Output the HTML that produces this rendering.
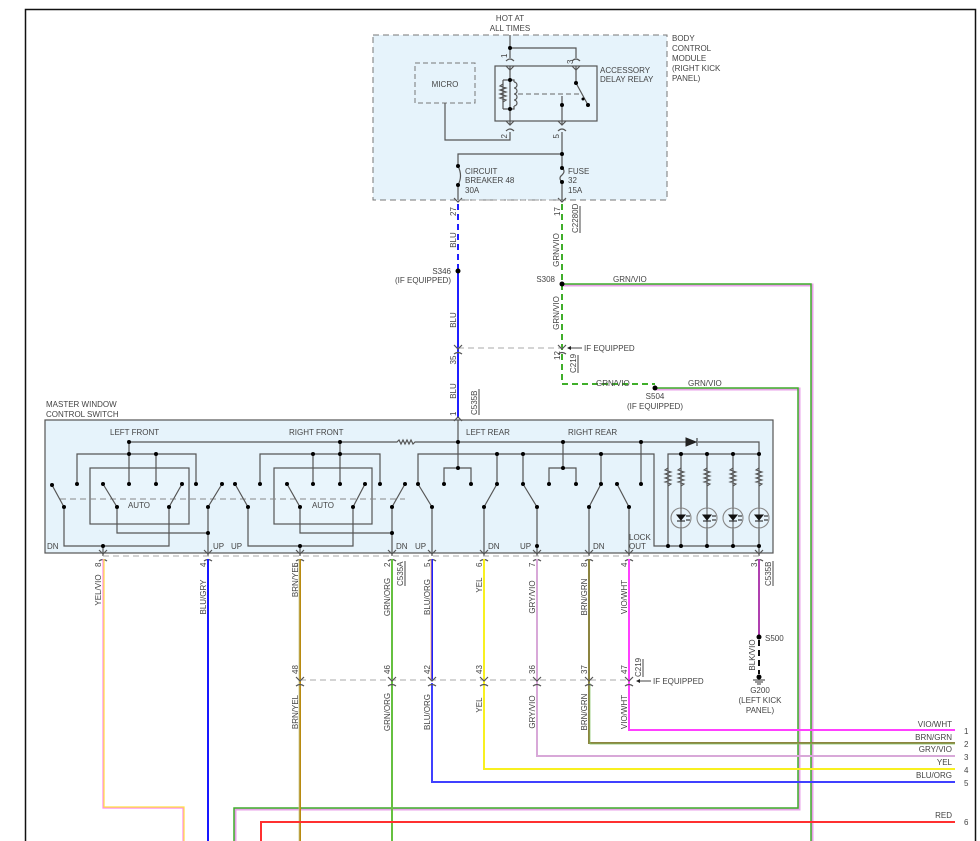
<!DOCTYPE html>
<html><head><meta charset="utf-8"><style>
html,body{margin:0;padding:0;background:#fff;width:980px;height:841px;overflow:hidden}
svg{display:block}
text{font-family:"Liberation Sans",sans-serif;font-size:8px;fill:#444}
.w{fill:none;stroke:#555;stroke-width:1.2}
.d{fill:#000}
.m{text-anchor:middle}
.e{text-anchor:end}
</style></head><body>
<svg width="980" height="841" viewBox="0 0 980 841" xmlns="http://www.w3.org/2000/svg">
<path d="M25.5,841 V9.5 H975.5 V841" fill="none" stroke="#111" stroke-width="1.5"/>

<rect x="373" y="35" width="294" height="165" fill="#e6f3fb" stroke="#777" stroke-dasharray="6,4"/>
<text x="510" y="21" class="m">HOT AT</text><text x="510" y="31" class="m">ALL TIMES</text>
<text x="672" y="41">BODY</text><text x="672" y="51">CONTROL</text><text x="672" y="61">MODULE</text><text x="672" y="71">(RIGHT KICK</text><text x="672" y="81">PANEL)</text>
<rect x="415" y="63" width="60" height="40" fill="none" stroke="#777" stroke-dasharray="5,3"/>
<text x="445" y="87" class="m">MICRO</text>
<rect x="495" y="66" width="102" height="55" fill="#e9f5fc" stroke="#555" stroke-width="1.2"/>
<text x="600" y="73">ACCESSORY</text><text x="600" y="82">DELAY RELAY</text>
<path class="w" d="M510,35 V58 M510,48 H576 V58 M510,66 V124 M576,66 V83 M576,83 L588,105 M562,96 V124 M445,103 V140 H510 V132 M562,132 V200 M562,154 H458 V200"/>
<path class="w" d="M503,80 V109 M503,84 l-3,2 l6,2 l-6,2 l6,2 l-6,2 l6,2 l-6,2 l6,2 l-3,2 M503,80 H510 M503,109 H510 M514,82 a3,3 0 0 1 0,6 a3,3 0 0 1 0,6 a3,3 0 0 1 0,6 a3,3 0 0 1 0,6 M510,80 H514 V82 M514,106 V109 H510"/>
<path d="M518,94 H580" stroke="#666" stroke-dasharray="5,3" fill="none"/>
<circle class="d" cx="510" cy="48" r="2"/><circle class="d" cx="510" cy="80" r="2"/><circle class="d" cx="510" cy="109" r="2"/><circle class="d" cx="576" cy="83" r="2"/><circle class="d" cx="588" cy="105" r="2"/><circle class="d" cx="583" cy="99" r="1.5"/><circle class="d" cx="562" cy="105" r="2"/><circle class="d" cx="562" cy="154" r="2"/>
<g class="w">
<path d="M506,61 q4,-4 8,0 M572,61 q4,-4 8,0 M506,66 l4,4 l4,-4 M572,66 l4,4 l4,-4"/>
<path d="M506,121 l4,4 l4,-4 M506,131 q4,-4 8,0 M558,131 q4,-4 8,0 M558,121 l4,4 l4,-4"/>
</g>
<text transform="rotate(-90 507 58)" x="507" y="58">1</text>
<text transform="rotate(-90 573 64)" x="573" y="64">3</text>
<text transform="rotate(-90 507 134)" x="507" y="134" class="e">2</text>
<text transform="rotate(-90 559 134)" x="559" y="134" class="e">5</text>
<path fill="#e6f3fb" stroke="#e6f3fb" d="M455,168 h6 v16 h-6z M559,170 h6 v12 h-6z"/>
<path class="w" d="M458,166 q5,10 0,19 M562,168 q4,3 0,7 q-4,3 0,7"/>
<circle class="d" cx="458" cy="166" r="2"/><circle class="d" cx="458" cy="185" r="2"/><circle class="d" cx="562" cy="168" r="2"/><circle class="d" cx="562" cy="182" r="2"/>
<text x="465" y="174">CIRCUIT</text><text x="465" y="183">BREAKER 48</text><text x="465" y="193">30A</text>
<text x="568" y="174">FUSE</text><text x="568" y="183">32</text><text x="568" y="193">15A</text>
<path class="w" d="M454,198 l4,4 l4,-4 M558,198 l4,4 l4,-4"/>
<path d="M458,200 H562" stroke="#999" stroke-dasharray="4,3"/>
<text transform="rotate(-90 456 216)" x="456" y="216">27</text>
<text transform="rotate(-90 560 216)" x="560" y="216">17</text>
<text transform="rotate(-90 578 233)" x="578" y="233">C2280D</text>
<path d="M580,206 V233" stroke="#444"/>

<path d="M458,204 V270" stroke="#2020ff" stroke-width="2" stroke-dasharray="6,4"/>
<path d="M458,272 V418" stroke="#2020ff" stroke-width="2"/>
<circle class="d" cx="458" cy="271" r="2.5"/>
<text x="451" y="274" class="e">S346</text><text x="451" y="283" class="e">(IF EQUIPPED)</text>
<text transform="rotate(-90 456 240)" x="456" y="240" class="m">BLU</text>
<text transform="rotate(-90 456 320)" x="456" y="320" class="m">BLU</text>
<text transform="rotate(-90 456 391)" x="456" y="391" class="m">BLU</text>
<text transform="rotate(-90 456 360)" x="456" y="360" class="m">35</text>
<text transform="rotate(-90 456 416)" x="456" y="416">1</text>
<text transform="rotate(-90 477 415)" x="477" y="415">C535B</text><path d="M479,389 V415" stroke="#444"/>

<path d="M562,204 V384 H655" stroke="#3fae2a" stroke-width="2" stroke-dasharray="6,4" fill="none"/>
<path d="M563,285 H812 V841" stroke="#e8a0e8" stroke-width="3" fill="none"/>
<path d="M562,284 H811 V841" stroke="#3fae2a" stroke-width="1.5" fill="none"/>
<path d="M656,389 H799 V809 H235 V841" stroke="#e8a0e8" stroke-width="3" fill="none"/>
<path d="M655,388 H798 V808 H234 V841" stroke="#3fae2a" stroke-width="1.5" fill="none"/>
<circle class="d" cx="562" cy="284" r="2.5"/><circle class="d" cx="655" cy="388" r="2.5"/>
<text x="555" y="282" class="e">S308</text>
<text x="613" y="282">GRN/VIO</text>
<text x="596" y="386">GRN/VIO</text><text x="688" y="386">GRN/VIO</text>
<text x="655" y="399" class="m">S504</text><text x="655" y="409" class="m">(IF EQUIPPED)</text>
<text transform="rotate(-90 559 250)" x="559" y="250" class="m">GRN/VIO</text>
<text transform="rotate(-90 559 313)" x="559" y="313" class="m">GRN/VIO</text>
<path d="M458,348 H562" stroke="#aaa" stroke-dasharray="6,4"/>
<path class="w" d="M454,345 l4,4 l4,-4 M454,354 q4,-3 8,0 M558,345 l4,4 l4,-4 M558,354 q4,-3 8,0"/>
<path d="M568,348 H582" stroke="#444"/><path d="M567,348 l4,-2 v4z" fill="#222"/>
<text x="584" y="351">IF EQUIPPED</text>
<text transform="rotate(-90 560 360)" x="560" y="360">12</text>
<text transform="rotate(-90 576 373)" x="576" y="373">C219</text><path d="M578,355 V373" stroke="#444"/>

<text x="46" y="407">MASTER WINDOW</text><text x="46" y="417">CONTROL SWITCH</text>
<rect x="45" y="420" width="728" height="133" fill="#e6f3fb" stroke="#555" stroke-width="1.2"/>
<path class="w" d="M454,421 l4,-4 l4,4"/>
<text x="110" y="435">LEFT FRONT</text><text x="289" y="435">RIGHT FRONT</text><text x="466" y="435">LEFT REAR</text><text x="568" y="435">RIGHT REAR</text>
<rect x="90" y="468" width="99" height="56" fill="#e9f5fc" stroke="#555" stroke-width="1.2"/>
<rect x="274" y="468" width="98" height="56" fill="#e9f5fc" stroke="#555" stroke-width="1.2"/>
<text x="139" y="508" class="m">AUTO</text><text x="323" y="508" class="m">AUTO</text>
<path d="M60,499 H405" stroke="#888" stroke-dasharray="6,4"/>
<g class="w">
<path d="M129,484 V442 H397 l2,-2 l2,4 l2,-4 l2,4 l2,-4 l2,4 l2,-4 l2,4 l2,-2 H641 V484 M641,442 H686 M698,442 H759 V454"/>
<path d="M77,484 V454 H196 V484 M156,454 V484"/>
<path d="M260,484 V454 H380 V484 M313,454 V484 M340,442 V484"/>
<path d="M458,420 V468 M444,484 V468 H471 V484 M418,484 V454 H654 V546 H759 M497,454 V484 M523,454 V484 M601,454 V484"/>
<path d="M563,442 V468 M549,484 V468 H576 V484"/>
<path d="M668,546 V454 H759 V556 M681,454 V546 M707,454 V546 M733,454 V546"/>
<path d="M52,485 L64,507 V546 H169 V507 M103,546 V556 M103,484 L117,507 V533 H208 M182,484 L169,507 M222,484 L208,507 V556"/>
<path d="M235,484 L248,507 V546 H353 V507 M300,546 V556 M287,484 L300,507 V533 H392 M365,484 L353,507 M405,484 L392,507 V556"/>
<path d="M418,484 L432,507 V556 M497,484 L484,507 V556 M523,484 L537,507 V556 M601,484 L589,507 V556 M617,484 L629,507 V556"/>
</g>
<path d="M686,438 v8 l10,-4z M697,438 v8" fill="#222" stroke="#222"/>
<g fill="#000">
<circle cx="129" cy="442" r="2"/><circle cx="340" cy="442" r="2"/><circle cx="458" cy="442" r="2"/><circle cx="563" cy="442" r="2"/><circle cx="641" cy="442" r="2"/>
<circle cx="129" cy="454" r="2"/><circle cx="156" cy="454" r="2"/><circle cx="313" cy="454" r="2"/><circle cx="340" cy="454" r="2"/><circle cx="497" cy="454" r="2"/><circle cx="523" cy="454" r="2"/><circle cx="601" cy="454" r="2"/><circle cx="759" cy="454" r="2"/><circle cx="681" cy="454" r="2"/><circle cx="707" cy="454" r="2"/><circle cx="733" cy="454" r="2"/>
<circle cx="458" cy="468" r="2"/><circle cx="563" cy="468" r="2"/>
<circle cx="52" cy="485" r="2"/><circle cx="77" cy="484" r="2"/><circle cx="103" cy="484" r="2"/><circle cx="129" cy="484" r="2"/><circle cx="156" cy="484" r="2"/><circle cx="182" cy="484" r="2"/><circle cx="196" cy="484" r="2"/><circle cx="222" cy="484" r="2"/>
<circle cx="235" cy="484" r="2"/><circle cx="260" cy="484" r="2"/><circle cx="287" cy="484" r="2"/><circle cx="313" cy="484" r="2"/><circle cx="340" cy="484" r="2"/><circle cx="365" cy="484" r="2"/><circle cx="380" cy="484" r="2"/><circle cx="405" cy="484" r="2"/>
<circle cx="418" cy="484" r="2"/><circle cx="444" cy="484" r="2"/><circle cx="471" cy="484" r="2"/><circle cx="497" cy="484" r="2"/><circle cx="523" cy="484" r="2"/><circle cx="549" cy="484" r="2"/><circle cx="576" cy="484" r="2"/><circle cx="601" cy="484" r="2"/><circle cx="617" cy="484" r="2"/><circle cx="641" cy="484" r="2"/>
<circle cx="64" cy="507" r="2"/><circle cx="117" cy="507" r="2"/><circle cx="169" cy="507" r="2"/><circle cx="208" cy="507" r="2"/><circle cx="248" cy="507" r="2"/><circle cx="300" cy="507" r="2"/><circle cx="353" cy="507" r="2"/><circle cx="392" cy="507" r="2"/>
<circle cx="432" cy="507" r="2"/><circle cx="484" cy="507" r="2"/><circle cx="537" cy="507" r="2"/><circle cx="589" cy="507" r="2"/><circle cx="629" cy="507" r="2"/>
<circle cx="208" cy="533" r="2"/><circle cx="392" cy="533" r="2"/>
<circle cx="103" cy="546" r="2"/><circle cx="300" cy="546" r="2"/><circle cx="537" cy="546" r="2"/>
<circle cx="668" cy="546" r="2"/><circle cx="681" cy="546" r="2"/><circle cx="707" cy="546" r="2"/><circle cx="733" cy="546" r="2"/><circle cx="759" cy="546" r="2"/>
</g>
<g fill="#e6f3fb" stroke="#555" stroke-width="1.1">
<path d="M668,468 l-3,2 l6,2 l-6,2 l6,2 l-6,2 l6,2 l-6,2 l6,2 l-3,2 M681,468 l-3,2 l6,2 l-6,2 l6,2 l-6,2 l6,2 l-6,2 l6,2 l-3,2 M707,468 l-3,2 l6,2 l-6,2 l6,2 l-6,2 l6,2 l-6,2 l6,2 l-3,2 M733,468 l-3,2 l6,2 l-6,2 l6,2 l-6,2 l6,2 l-6,2 l6,2 l-3,2 M759,468 l-3,2 l6,2 l-6,2 l6,2 l-6,2 l6,2 l-6,2 l6,2 l-3,2" fill="none"/>
<circle cx="681" cy="518" r="10" stroke="#888"/><circle cx="707" cy="518" r="10" stroke="#888"/><circle cx="733" cy="518" r="10" stroke="#888"/><circle cx="759" cy="518" r="10" stroke="#888"/>
</g>
<path stroke="#555" d="M681,508 V528 M707,508 V528 M733,508 V528 M759,508 V528"/>
<g fill="#111" stroke="#111">
<path d="M677,515 h8 l-4,5z M677,521 h8 M703,515 h8 l-4,5z M703,521 h8 M729,515 h8 l-4,5z M729,521 h8 M755,515 h8 l-4,5z M755,521 h8"/>
<path d="M686,516 h4 M686,520 h4 M712,516 h4 M712,520 h4 M738,516 h4 M738,520 h4 M764,516 h4 M764,520 h4"/>
</g>
<text x="47" y="549">DN</text><text x="213" y="549">UP</text><text x="231" y="549">UP</text><text x="396" y="549">DN</text><text x="415" y="549">UP</text><text x="488" y="549">DN</text><text x="520" y="549">UP</text><text x="593" y="549">DN</text><text x="629" y="540">LOCK</text><text x="629" y="549">OUT</text>
<path d="M103,556 H759" stroke="#aaa" stroke-dasharray="6,4"/>
<g class="w"><path d="M99,550 l4,4 l4,-4 M204,550 l4,4 l4,-4 M296,550 l4,4 l4,-4 M388,550 l4,4 l4,-4 M428,550 l4,4 l4,-4 M480,550 l4,4 l4,-4 M533,550 l4,4 l4,-4 M585,550 l4,4 l4,-4 M625,550 l4,4 l4,-4 M755,550 l4,4 l4,-4"/>
<path d="M99,561 q4,-3 8,0 M204,561 q4,-3 8,0 M296,561 q4,-3 8,0 M388,561 q4,-3 8,0 M428,561 q4,-3 8,0 M480,561 q4,-3 8,0 M533,561 q4,-3 8,0 M585,561 q4,-3 8,0 M625,561 q4,-3 8,0 M755,561 q4,-3 8,0"/></g>
<text transform="rotate(-90 101 567)" x="101" y="567">8</text><text transform="rotate(-90 206 567)" x="206" y="567">4</text><text transform="rotate(-90 298 567)" x="298" y="567">6</text><text transform="rotate(-90 390 567)" x="390" y="567">2</text><text transform="rotate(-90 430 567)" x="430" y="567">5</text><text transform="rotate(-90 482 567)" x="482" y="567">6</text><text transform="rotate(-90 535 567)" x="535" y="567">7</text><text transform="rotate(-90 587 567)" x="587" y="567">8</text><text transform="rotate(-90 627 567)" x="627" y="567">4</text><text transform="rotate(-90 757 567)" x="757" y="567">3</text>
<text transform="rotate(-90 403 586)" x="403" y="586">C535A</text><path d="M405,561 V586" stroke="#444"/>
<text transform="rotate(-90 771 586)" x="771" y="586">C535B</text><path d="M773,561 V586" stroke="#444"/>

<path d="M103,559 V808 H183 V841" stroke="#ff88ee" stroke-width="1.2" fill="none"/>
<path d="M104,559 V807 H184 V841" stroke="#ffe040" stroke-width="1.2" fill="none"/>
<path d="M208,559 V841" stroke="#1818ff" stroke-width="2"/>
<path d="M300,559 V841" stroke="#b88a10" stroke-width="2"/><path d="M299,559 V841" stroke="#c8c890" stroke-width="0.8"/>
<path d="M392,559 V841" stroke="#66c040" stroke-width="2"/>
<path d="M432,559 V680" stroke="#2020ff" stroke-width="2"/><path d="M431,559 V680" stroke="#ffb060" stroke-width="0.8"/>
<path d="M432,683 V782 H955" stroke="#4040ff" stroke-width="2" fill="none"/>
<path d="M484,559 V769 H955" stroke="#f8f020" stroke-width="2" fill="none"/>
<path d="M537,559 V756 H955" stroke="#d8a8d8" stroke-width="2" fill="none"/>
<path d="M589,559 V743 H955" stroke="#8c8440" stroke-width="2" fill="none"/><path d="M590,683 V744 H955" stroke="#80c060" stroke-width="0.7" fill="none"/>
<path d="M629,559 V730 H955" stroke="#ff40ff" stroke-width="2" fill="none"/>
<path d="M261,841 V822 H955" stroke="#ff3030" stroke-width="2" fill="none"/>
<path d="M759,559 V636" stroke="#b040b0" stroke-width="2"/>
<path d="M759,640 V674" stroke="#111" stroke-width="2" stroke-dasharray="6,4"/>
<circle class="d" cx="759" cy="637" r="2.5"/><circle class="d" cx="759" cy="677" r="2.5"/>
<path d="M753,680 h12 M755,682 h8 M757,684 h4" stroke="#333"/>
<text x="765" y="641">S500</text>
<text x="760" y="693" class="m">G200</text><text x="760" y="703" class="m">(LEFT KICK</text><text x="760" y="713" class="m">PANEL)</text>
<text transform="rotate(-90 755 655)" x="755" y="655" class="m">BLK/VIO</text>
<path d="M300,680 H629" stroke="#aaa" stroke-dasharray="6,4"/>
<g class="w"><path d="M296,677 l4,4 l4,-4 M388,677 l4,4 l4,-4 M428,677 l4,4 l4,-4 M480,677 l4,4 l4,-4 M533,677 l4,4 l4,-4 M585,677 l4,4 l4,-4 M625,677 l4,4 l4,-4"/>
<path d="M296,686 q4,-3 8,0 M388,686 q4,-3 8,0 M428,686 q4,-3 8,0 M480,686 q4,-3 8,0 M533,686 q4,-3 8,0 M585,686 q4,-3 8,0 M625,686 q4,-3 8,0"/></g>
<text transform="rotate(-90 298 674)" x="298" y="674">48</text><text transform="rotate(-90 390 674)" x="390" y="674">46</text><text transform="rotate(-90 430 674)" x="430" y="674">42</text><text transform="rotate(-90 482 674)" x="482" y="674">43</text><text transform="rotate(-90 535 674)" x="535" y="674">36</text><text transform="rotate(-90 587 674)" x="587" y="674">37</text><text transform="rotate(-90 627 674)" x="627" y="674">47</text>
<text transform="rotate(-90 641 677)" x="641" y="677">C219</text><path d="M643,659 V677" stroke="#444"/>
<path d="M637,681 H651" stroke="#444"/><path d="M636,681 l4,-2 v4z" fill="#222"/>
<text x="653" y="684">IF EQUIPPED</text>
<g>
<text transform="rotate(-90 101 590)" x="101" y="590" class="m">YEL/VIO</text>
<text transform="rotate(-90 206 597)" x="206" y="597" class="m">BLU/GRY</text>
<text transform="rotate(-90 298 580)" x="298" y="580" class="m">BRN/YEL</text>
<text transform="rotate(-90 390 597)" x="390" y="597" class="m">GRN/ORG</text>
<text transform="rotate(-90 430 597)" x="430" y="597" class="m">BLU/ORG</text>
<text transform="rotate(-90 482 585)" x="482" y="585" class="m">YEL</text>
<text transform="rotate(-90 535 597)" x="535" y="597" class="m">GRY/VIO</text>
<text transform="rotate(-90 587 597)" x="587" y="597" class="m">BRN/GRN</text>
<text transform="rotate(-90 627 597)" x="627" y="597" class="m">VIO/WHT</text>
<text transform="rotate(-90 298 712)" x="298" y="712" class="m">BRN/YEL</text>
<text transform="rotate(-90 390 712)" x="390" y="712" class="m">GRN/ORG</text>
<text transform="rotate(-90 430 712)" x="430" y="712" class="m">BLU/ORG</text>
<text transform="rotate(-90 482 705)" x="482" y="705" class="m">YEL</text>
<text transform="rotate(-90 535 712)" x="535" y="712" class="m">GRY/VIO</text>
<text transform="rotate(-90 587 712)" x="587" y="712" class="m">BRN/GRN</text>
<text transform="rotate(-90 627 712)" x="627" y="712" class="m">VIO/WHT</text>
</g>
<text x="952" y="727" class="e">VIO/WHT</text><text x="964" y="734">1</text>
<text x="952" y="740" class="e">BRN/GRN</text><text x="964" y="747">2</text>
<text x="952" y="752" class="e">GRY/VIO</text><text x="964" y="760">3</text>
<text x="952" y="765" class="e">YEL</text><text x="964" y="773">4</text>
<text x="952" y="778" class="e">BLU/ORG</text><text x="964" y="786">5</text>
<text x="952" y="818" class="e">RED</text><text x="964" y="825">6</text>
</svg>
</body></html>
